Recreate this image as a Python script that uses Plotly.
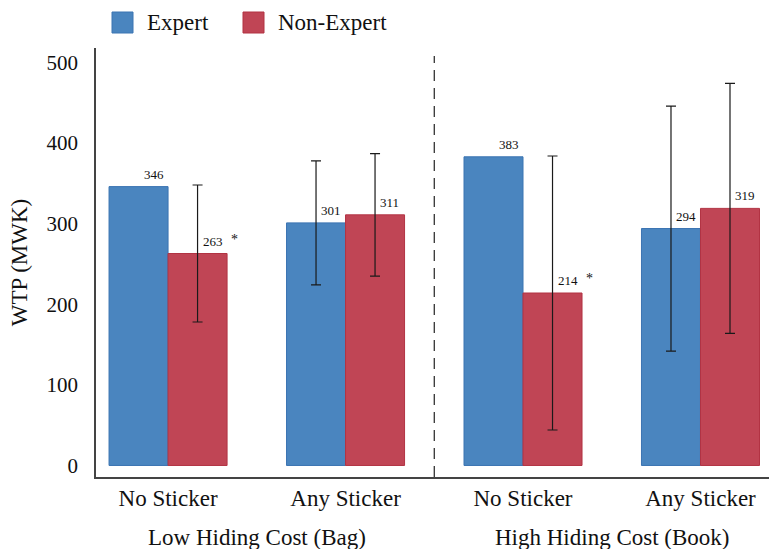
import plotly.graph_objects as go

categories = ["No Sticker", "Any Sticker", "No Sticker", "Any Sticker"]
groups = ["Low Hiding Cost (Bag)", "High Hiding Cost (Book)"]
expert = [346, 301, 383, 294]
expert_ci = [None, 77, None, 152]
nonexpert = [263, 311, 214, 319]
nonexpert_ci = [85, 76, 170, 155]
nonexpert_sig = ["*", "", "*", ""]
yticks = [0, 100, 200, 300, 400, 500]

FONT = "'Liberation Serif', 'Times New Roman', 'DejaVu Serif', serif"
TXT = 23
BLUE, BLUE_EDGE = "#4a85bf", "#3b74b2"
RED, RED_EDGE = "#c04555", "#b23343"
ERR = dict(type="data", symmetric=True, color="#1a1a1a", thickness=1.2, width=5)

xs = list(range(len(categories)))
fig = go.Figure()

idx_no = [i for i in xs if expert_ci[i] is None]
idx_ci = [i for i in xs if expert_ci[i] is not None]
fig.add_trace(go.Bar(x=idx_no, y=[expert[i] for i in idx_no], name="Expert",
                     offsetgroup="E", marker=dict(color=BLUE, line=dict(color=BLUE_EDGE, width=1)),
                     showlegend=False))
fig.add_trace(go.Bar(x=idx_ci, y=[expert[i] for i in idx_ci], name="Expert",
                     offsetgroup="E", marker=dict(color=BLUE, line=dict(color=BLUE_EDGE, width=1)),
                     error_y=dict(array=[expert_ci[i] for i in idx_ci], **ERR), showlegend=False))
fig.add_trace(go.Bar(x=xs, y=nonexpert, name="Non-Expert", offsetgroup="N",
                     marker=dict(color=RED, line=dict(color=RED_EDGE, width=1)),
                     error_y=dict(array=nonexpert_ci, **ERR), showlegend=False))

half = (1 - 0.335) / 4
annotations = []
for i in xs:
    annotations.append(dict(x=i - half, y=expert[i], text=str(expert[i]), xref="x", yref="y",
                            xanchor="left", yanchor="bottom", xshift=3, yshift=3, showarrow=False,
                            font=dict(family=FONT, size=13, color="#111")))
    annotations.append(dict(x=i + half, y=nonexpert[i], text=str(nonexpert[i]), xref="x", yref="y",
                            xanchor="left", yanchor="bottom", xshift=3, yshift=3, showarrow=False,
                            font=dict(family=FONT, size=13, color="#111")))
    if nonexpert_sig[i]:
        annotations.append(dict(x=i + half, y=nonexpert[i], text=nonexpert_sig[i], xref="x", yref="y",
                                xanchor="left", yanchor="bottom", xshift=31, yshift=5, showarrow=False,
                                font=dict(family=FONT, size=14, color="#111")))

for g, label in enumerate(groups):
    annotations.append(dict(x=2 * g + 0.5, y=0, xref="x", yref="paper", text=label,
                            yanchor="middle", yshift=-60, showarrow=False,
                            font=dict(family=FONT, size=TXT, color="#111")))

legend_items = [("Expert", BLUE, BLUE_EDGE, 112), ("Non-Expert", RED, RED_EDGE, 243)]
shapes = []
for name, c, e, px in legend_items:
    shapes.append(dict(type="rect", xref="paper", yref="paper",
                       x0=(px - 96) / 673, x1=(px + 21 - 96) / 673,
                       y0=(477 - 33) / 429, y1=(477 - 12) / 429,
                       fillcolor=c, line=dict(color=e, width=1)))
    annotations.append(dict(x=(px + 33 - 96) / 673, y=(477 - 22) / 429, xref="paper", yref="paper",
                            text=name, xanchor="left", yanchor="middle", showarrow=False,
                            font=dict(family=FONT, size=TXT, color="#111")))

shapes.append(dict(type="line", xref="x", yref="paper", x0=1.5, x1=1.5, y0=0, y1=(477 - 56) / 429,
                   line=dict(color="#222", width=1.2, dash="11px,7px")))

fig.update_layout(
    width=769, height=549,
    margin=dict(l=96, r=0, t=48, b=72),
    plot_bgcolor="white", paper_bgcolor="white",
    barmode="group", bargap=0.335, bargroupgap=0,
    font=dict(family=FONT, size=TXT, color="#111"),
    annotations=annotations, shapes=shapes, showlegend=False,
    xaxis=dict(range=[-0.406, 3.386], tickvals=xs, ticktext=categories, showgrid=False,
               zeroline=False, showline=True, linecolor="#444", linewidth=1.5,
               ticks="", ticklabelstandoff=0, tickfont=dict(family=FONT, size=TXT, color="#111")),
    yaxis=dict(range=[-14.3, 518], tickvals=yticks, showgrid=False, zeroline=False,
               showline=True, linecolor="#444", linewidth=1.5, ticks="", ticklabelstandoff=12,
               tickfont=dict(family=FONT, size=21, color="#111"),
               title=dict(text="WTP (MWK)", standoff=12, font=dict(family=FONT, size=TXT, color="#111"))),
)

fig.write_html("out.html")
